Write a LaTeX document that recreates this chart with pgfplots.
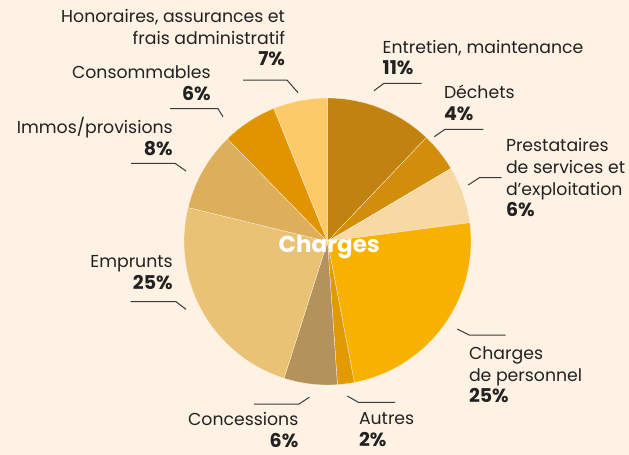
\documentclass[border=0pt]{standalone}
\usepackage{pgfplots}
\pgfplotsset{compat=1.18}
\usepackage{fontspec}
\setmainfont{Poppins}
\definecolor{bg}{HTML}{FDF2E3}
\definecolor{txt}{HTML}{222222}
\definecolor{ldr}{HTML}{3A3A3A}
\definecolor{cEnt}{HTML}{C18210}
\definecolor{cDec}{HTML}{D28D0A}
\definecolor{cPre}{HTML}{F7D9A6}
\definecolor{cPer}{HTML}{F9B100}
\definecolor{cAut}{HTML}{E19A02}
\definecolor{cCon}{HTML}{B3925B}
\definecolor{cEmp}{HTML}{EAC276}
\definecolor{cImm}{HTML}{DDAF5B}
\definecolor{cCso}{HTML}{E19400}
\definecolor{cHon}{HTML}{FCCA68}
\newcommand\pct[1]{{\fontsize{19}{21}\selectfont\bfseries #1}}
\tikzset{
  lbl/.style={inner sep=0pt, outer sep=0pt, text=txt, font=\fontsize{17.3}{20}\selectfont},
  le/.style={lbl, anchor=base east},
  lw/.style={lbl, anchor=base west},
}
% pie centre and radius (pixel units)
\newcommand\cx{327.5}
\newcommand\cy{241.5}
\newcommand\rr{143.5}
% slice from cumulative share #1 to #2 (percent), clockwise from top
\newcommand\slice[3]{%
  \addplot[draw=bg, line width=0.3pt, fill=#3, domain={90-3.6*(#2)}:{90-3.6*(#1)}, samples=60]
    ({\cx+\rr*cos(x)},{\cy-\rr*sin(x)}) -- (axis cs:\cx,\cy) -- cycle;}
\begin{document}
\begin{tikzpicture}
\begin{axis}[
  x=1pt, y=1pt, y dir=reverse,
  xmin=0, xmax=629, ymin=0, ymax=455,
  hide axis, clip=false,
  leader/.style={ldr, line width=1pt, mark=none},
]
\fill[bg] (axis cs:0,0) rectangle (axis cs:629,455);
% cumulative shares (percent): 12.1, 16.5, 22.9, 47.0, 48.9, 54.9, 78.8, 87.7, 93.9, 100
\slice{0}{12.1}{cEnt}
\slice{12.1}{16.5}{cDec}
\slice{16.5}{22.9}{cPre}
\slice{22.9}{47.0}{cPer}
\slice{47.0}{48.9}{cAut}
\slice{48.9}{54.9}{cCon}
\slice{54.9}{78.8}{cEmp}
\slice{78.8}{87.7}{cImm}
\slice{87.7}{93.9}{cCso}
\slice{93.9}{100}{cHon}
% leader lines
\addplot[leader] coordinates {(243,80) (287,80) (298,92.7)};
\addplot[leader] coordinates {(170,108.7) (218,108.7) (223,116.7)};
\addplot[leader] coordinates {(131,163.3) (175,163.3) (186,171)};
\addplot[leader] coordinates {(130.7,301.7) (176,301.7) (186,309.3)};
\addplot[leader] coordinates {(254,404) (299,404) (309.3,397.3)};
\addplot[leader] coordinates {(347.3,396) (358.3,402.3) (395,402.3)};
\addplot[leader] coordinates {(457.3,329) (469.3,335) (505.7,335)};
\addplot[leader] coordinates {(468.3,185) (479.3,177.7) (501.7,177.7)};
\addplot[leader] coordinates {(434.3,136.7) (445,129.3) (483.3,129.3)};
\addplot[leader] coordinates {(374,90.7) (384,83.3) (421.7,83.3)};
% labels
\node[le] at (axis cs:285,22.7) {Honoraires, assurances et};
\node[le] at (axis cs:285,44.3) {frais administratif};
\node[le] at (axis cs:285,65.7) {\pct{7\%}};
\node[le] at (axis cs:210.7,78.3) {Consommables};
\node[le] at (axis cs:210.7,100) {\pct{6\%}};
\node[le] at (axis cs:172.7,133.3) {Immos/provisions};
\node[le] at (axis cs:172.7,155.7) {\pct{8\%}};
\node[le] at (axis cs:172.7,267.3) {Emprunts};
\node[le] at (axis cs:172.7,289.3) {\pct{25\%}};
\node[le] at (axis cs:298.3,425.7) {Concessions};
\node[le] at (axis cs:298.3,447.7) {\pct{6\%}};
\node[lw] at (axis cs:359,424.3) {Autres};
\node[lw] at (axis cs:359,446) {\pct{2\%}};
\node[lw] at (axis cs:469,359) {Charges};
\node[lw] at (axis cs:469,381) {de personnel};
\node[lw] at (axis cs:469,402.3) {\pct{25\%}};
\node[lw] at (axis cs:506,151.7) {Prestataires};
\node[lw] at (axis cs:506,173.3) {de services et};
\node[lw] at (axis cs:506,195) {d’exploitation};
\node[lw] at (axis cs:506,216.7) {\pct{6\%}};
\node[lw] at (axis cs:444,98.3) {Déchets};
\node[lw] at (axis cs:444,120) {\pct{4\%}};
\node[lw] at (axis cs:382.7,53.3) {Entretien, maintenance};
\node[lw] at (axis cs:382.7,74.3) {\pct{11\%}};
\node[inner sep=0pt, anchor=base, text=white, font=\fontsize{23}{26}\selectfont\bfseries] at (axis cs:329.2,252.3) {Charges};
\end{axis}
\end{tikzpicture}
\end{document}
